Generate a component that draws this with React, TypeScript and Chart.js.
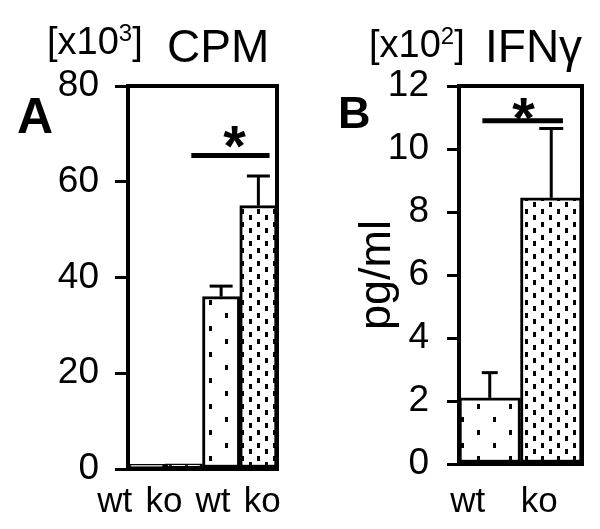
import React, { useEffect, useRef } from "react";
import { Chart, registerables } from "chart.js";

Chart.register(...registerables);

// ---------- DATA ----------
const categoriesA = ["wt", "ko", "wt", "ko"];
const meanA = [1.0, 1.1, 36, 55];
const errorA = [0, 0, 2.2, 6.2];
const patternKindA = ["sparse", "dense", "sparse", "dense"];
const yTicksA = [0, 20, 40, 60, 80];
const sigA = [1.2, 3.3, 65.5]; // from index, to index, value

const categoriesB = ["wt", "ko"];
const meanB = [2.1, 8.45];
const errorB = [0.8, 2.2];
const patternKindB = ["sparse", "dense"];
const yTicksB = [0, 2, 4, 6, 8, 10, 12];
const sigB = [-0.12, 1.19, 10.9];

const FONT = "'Liberation Sans', Arial, Helvetica, sans-serif";

function makePattern(kind: string): CanvasPattern | string {
  const c = document.createElement("canvas");
  const dense = kind === "dense";
  const w = dense ? 16 : 32;
  const h = dense ? 13 : 26;
  c.width = w;
  c.height = h;
  const g = c.getContext("2d");
  if (!g) return "#fff";
  g.fillStyle = "#fff";
  g.fillRect(0, 0, w, h);
  g.fillStyle = "#000";
  g.fillRect(1, 1, 3, 5);
  g.fillRect(w / 2 + 1, Math.floor(h / 2) + 1, 3, 5);
  const p = g.createPattern(c, "repeat");
  return p || "#fff";
}

type TextPart = { t: string; size: number; bold?: boolean; dy?: number; gap?: number };

const annotPlugin = {
  id: "annot",
  afterDatasetsDraw(chart: any, _args: any, opts: any) {
    const ctx = chart.ctx as CanvasRenderingContext2D;
    const { left, right, top, bottom } = chart.chartArea;
    const xs = chart.scales.x;
    const ys = chart.scales.y;
    ctx.save();
    ctx.strokeStyle = "#000";
    ctx.fillStyle = "#000";
    // error bars (upper only)
    const meta = chart.getDatasetMeta(0);
    meta.data.forEach((el: any, i: number) => {
      const e = opts.err[i];
      if (!e) return;
      const yTop = ys.getPixelForValue(opts.mean[i] + e);
      const cw = opts.cap[i];
      ctx.lineWidth = 3;
      ctx.beginPath();
      ctx.moveTo(el.x, el.y);
      ctx.lineTo(el.x, yTop);
      ctx.stroke();
      ctx.beginPath();
      ctx.moveTo(el.x - cw / 2, yTop);
      ctx.lineTo(el.x + cw / 2, yTop);
      ctx.stroke();
    });
    // frame
    ctx.lineWidth = 4;
    ctx.strokeRect(left, top, right - left, bottom - top);
    // significance line + star
    const sx1 = xs.getPixelForValue(opts.sig[0]);
    const sx2 = xs.getPixelForValue(opts.sig[1]);
    const sy = ys.getPixelForValue(opts.sig[2]);
    ctx.lineWidth = 5;
    ctx.beginPath();
    ctx.moveTo(sx1, sy);
    ctx.lineTo(sx2, sy);
    ctx.stroke();
    ctx.font = `bold 58px ${FONT}`;
    ctx.textAlign = "center";
    ctx.textBaseline = "alphabetic";
    ctx.fillText("*", (sx1 + sx2) / 2 + opts.starDx, sy + opts.starDy);
    // category labels (spread slightly wider than the bars, as in the figure)
    ctx.font = `35px ${FONT}`;
    const n = opts.labels.length;
    const mid = (xs.getPixelForValue(0) + xs.getPixelForValue(n - 1)) / 2;
    (opts.labels as string[]).forEach((lab, i) => {
      const px = xs.getPixelForValue(i);
      ctx.fillText(lab, mid + opts.labelShift + (px - mid) * opts.labelSpread, opts.labelY);
    });
    // panel letter
    ctx.textAlign = "left";
    ctx.font = `bold ${opts.letterSize}px ${FONT}`;
    ctx.fillText(opts.letter, opts.letterX, opts.letterY);
    // unit label with superscript, then title
    let x = opts.unitX;
    (opts.unitParts as TextPart[]).forEach((p) => {
      ctx.font = `${p.bold ? "bold " : ""}${p.size}px ${FONT}`;
      ctx.fillText(p.t, x, opts.unitY + (p.dy || 0));
      x += ctx.measureText(p.t).width + (p.gap || 0);
    });
    ctx.font = `${opts.titleSize}px ${FONT}`;
    ctx.fillText(opts.title, opts.titleX, opts.titleY);
    ctx.restore();
  },
};

type PanelProps = {
  categories: string[];
  mean: number[];
  err: number[];
  kinds: string[];
  yTicks: number[];
  sig: number[];
  cfg: any;
};

function Panel({ categories, mean, err, kinds, yTicks, sig, cfg }: PanelProps) {
  const ref = useRef<HTMLCanvasElement | null>(null);
  useEffect(() => {
    if (!ref.current) return;
    const bg = kinds.map((k) => makePattern(k));
    const chart = new Chart(ref.current, {
      type: "bar",
      data: {
        labels: categories,
        datasets: [
          {
            data: mean,
            backgroundColor: bg as any,
            borderColor: "#000",
            borderWidth: 3,
            borderSkipped: false,
            barPercentage: 1,
            categoryPercentage: 1,
          },
        ],
      },
      options: {
        responsive: false,
        animation: false,
        devicePixelRatio: 1,
        layout: { padding: { left: 0, top: cfg.top, right: cfg.right, bottom: 0 } },
        plugins: {
          legend: { display: false },
          tooltip: { enabled: false },
          annot: {
            mean,
            err,
            cap: cfg.cap,
            sig,
            labels: categories,
            labelSpread: cfg.labelSpread,
            labelShift: cfg.labelShift,
            labelY: 512,
            starDx: cfg.starDx,
            starDy: cfg.starDy,
            letter: cfg.letter,
            letterSize: cfg.letterSize,
            letterX: cfg.letterX,
            letterY: cfg.letterY,
            unitParts: cfg.unitParts,
            unitX: cfg.unitX,
            unitY: cfg.unitY,
            title: cfg.title,
            titleSize: 46,
            titleX: cfg.titleX,
            titleY: 62,
          },
        } as any,
        scales: {
          x: {
            grid: { display: false, drawTicks: false },
            border: { display: false },
            ticks: { display: false },
            afterFit: (s: any) => {
              s.height = cfg.xHeight;
            },
          },
          y: {
            min: yTicks[0],
            max: yTicks[yTicks.length - 1],
            afterBuildTicks: (s: any) => {
              s.ticks = yTicks.map((v) => ({ value: v }));
            },
            grid: {
              drawOnChartArea: false,
              drawTicks: true,
              tickLength: cfg.tickLen,
              lineWidth: 3,
              color: "#000",
            },
            border: { display: false },
            ticks: {
              color: "#000",
              font: { family: FONT, size: 37 },
              padding: cfg.yPad,
            },
            title: cfg.yTitle
              ? {
                  display: true,
                  text: cfg.yTitle,
                  color: "#000",
                  font: { family: FONT, size: 45 },
                  padding: { top: cfg.yTitlePad, bottom: 0 },
                }
              : { display: false },
            afterFit: (s: any) => {
              s.width = cfg.yWidth;
            },
          },
        },
      },
      plugins: [annotPlugin],
    });
    return () => chart.destroy();
  }, []);
  return <canvas ref={ref} width={300} height={529} style={{ display: "block" }} />;
}

const cfgA = {
  top: 86,
  right: 23,
  yWidth: 128,
  xHeight: 60,
  labelSpread: 1.32,
  labelShift: -14,
  tickLen: 13,
  yPad: 16,
  cap: [0, 0, 23, 23],
  starDx: 4,
  starDy: 11,
  letter: "A",
  letterSize: 50,
  letterX: 17,
  letterY: 133,
  unitParts: [
    { t: "[x10", size: 38 },
    { t: "3", size: 24, dy: -13 },
    { t: "]", size: 38 },
  ],
  unitX: 47,
  unitY: 54,
  title: "CPM",
  titleX: 167,
  yTitle: "",
  yTitlePad: 0,
};

const cfgB = {
  top: 86,
  right: 18,
  yWidth: 159,
  xHeight: 65,
  labelSpread: 1.16,
  labelShift: -17,
  tickLen: 12,
  yPad: 18,
  cap: [16, 24],
  starDx: 1,
  starDy: 17,
  letter: "B",
  letterSize: 45,
  letterX: 38,
  letterY: 128,
  unitParts: [
    { t: "[x10", size: 38 },
    { t: "2", size: 24, dy: -13 },
    { t: "]", size: 38 },
  ],
  unitX: 69,
  unitY: 57,
  title: "IFNγ",
  titleX: 185,
  yTitle: "pg/ml",
  yTitlePad: 51,
};

export default function App() {
  return (
    <div
      style={{
        position: "absolute",
        left: 0,
        top: 0,
        width: 600,
        height: 529,
        display: "flex",
        background: "#fff",
      }}
    >
      <Panel
        categories={categoriesA}
        mean={meanA}
        err={errorA}
        kinds={patternKindA}
        yTicks={yTicksA}
        sig={sigA}
        cfg={cfgA}
      />
      <Panel
        categories={categoriesB}
        mean={meanB}
        err={errorB}
        kinds={patternKindB}
        yTicks={yTicksB}
        sig={sigB}
        cfg={cfgB}
      />
    </div>
  );
}
